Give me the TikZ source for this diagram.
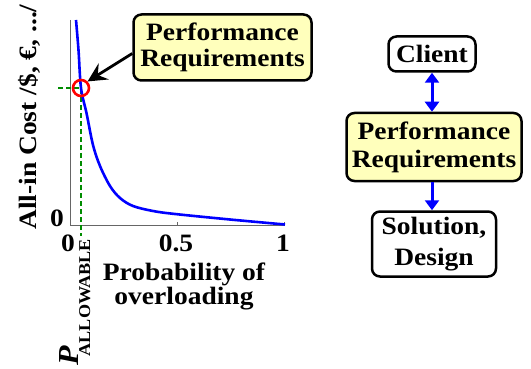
\documentclass[tikz,border=0pt]{standalone}
\usepackage{fontspec}
\setmainfont[FakeStretch=1.1]{Liberation Serif}
\usepackage{tikz}
\usetikzlibrary{arrows.meta,positioning}
\definecolor{reqyellow}{RGB}{255,255,188}
\definecolor{guidegreen}{RGB}{0,140,0}
\tikzset{
  basic/.style  = {draw, line width=2.5pt, rounded corners=8pt, align=center, inner sep=0pt},
  req/.style    = {basic, fill=reqyellow},
  plain/.style  = {basic, fill=white},
  lbl/.style    = {inner sep=0pt, font=\bfseries\fontsize{25}{25}\selectfont},
  axis/.style   = {draw=black!60, line width=1pt},
  guide/.style  = {draw=guidegreen, line width=1.3pt, dash pattern=on 5pt off 3pt},
  ring/.style   = {circle, draw=red, line width=2.6pt, minimum size=16pt, inner sep=0pt},
  curve/.style  = {draw=blue, line width=2.6pt},
  link/.style   = {draw=blue, line width=3pt, -{Triangle[width=14pt,length=10pt]}},
  pointer/.style = {draw=black, line width=2.8pt, -{Stealth[width=19pt,length=19pt,inset=7pt]}}
}

\begin{document}
\begin{tikzpicture}[x=1pt, y=-1pt]
\useasboundingbox (0,0) rectangle (531,369);

% axes of the cost plot
\coordinate (ytop) at (70,20);
\coordinate (o) at (70,225);
\coordinate (xend) at (285,225);
\draw[axis] (ytop) -- (o) -- (xend);
\foreach \t in {0.5,1}
  \draw[axis] ({70+214*\t},225) -- ++(0,-3);

% allowable point and its guide lines
\coordinate (p) at (81,88);
\coordinate (gl) at (58,88);
\coordinate (gb) at (81,236);
\draw[guide] (gl) -- (p) -- (gb);

% cost against probability
\draw[curve] plot[smooth, tension=0.55] coordinates {(76,20) (78.5,50) (81,88) (86.5,113) (93,145)
  (100,166) (110,186) (120,198) (133,206) (153,211) (175,214) (230,219.5) (285,224.5)};
\node[ring] (pa) at (p) {};

% tick and axis labels
\node[lbl] (y0) at (57,218) {0};
\node[lbl] (x0) at (68,243) {0};
\node[lbl] (x5) at (176,243) {0.5};
\node[lbl] (x1) at (283,243) {1};
\node[lbl, align=center, font=\bfseries\fontsize{25}{24}\selectfont] (xlab) at (184,286) {Probability of\\overloading};
\node[lbl, rotate=90, anchor=base west] (ylab) at (36,230) {All-in Cost /\$, €, .../};
\node[lbl, rotate=90, anchor=base west] (pall) at (78,366)
  {{\fontsize{29}{29}\selectfont\itshape P}\kern-10pt\raisebox{-12pt}{\fontsize{16.5}{17}\selectfont ALLOWABLE}};

% callout on the plot
\node[req, minimum width=178pt, minimum height=66pt, font=\bfseries\fontsize{25}{26}\selectfont] (perf) at (222.5,47.5) {Performance\\Requirements};
\draw[pointer] ([yshift=-6pt]perf.west) -- (pa.north east);

% client / requirements / design chain
\node[plain, minimum width=87pt, minimum height=35pt, font=\bfseries\fontsize{25}{26}\selectfont] (client) at (432,54) {Client};
\node[req, below=39pt of client, xshift=2pt, minimum width=175pt, minimum height=68pt, font=\bfseries\fontsize{25}{28}\selectfont] (rperf) {Performance\\Requirements};
\node[plain, below=28pt of rperf, minimum width=124pt, minimum height=65pt, font=\bfseries\fontsize{25}{31}\selectfont] (sol) {Solution,\\Design};

\draw[link, {Triangle[width=14pt,length=10pt]}-{Triangle[width=14pt,length=10pt]}] (client) -- (client |- rperf.north);
\draw[link] (rperf.south -| client) -- (sol.north -| client);
\end{tikzpicture}
\end{document}
